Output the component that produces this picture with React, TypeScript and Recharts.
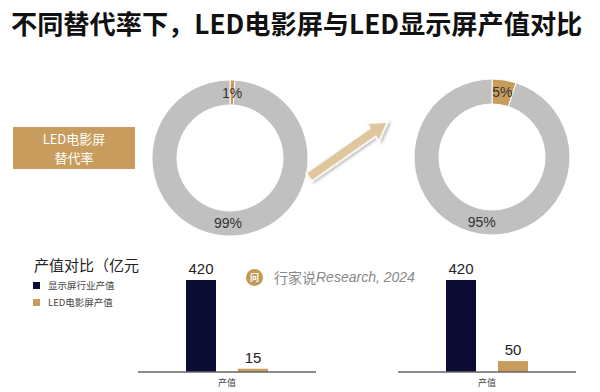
import React from 'react';
import { PieChart, Pie, Cell, BarChart, Bar, XAxis, YAxis, LabelList } from 'recharts';

const title = '不同替代率下，LED电影屏与LED显示屏产值对比';
const boxLines = ['LED电影屏', '替代率'];
const sliceNames = ['LED电影屏', '其他'];
const lowShares = [1, 99];
const highShares = [5, 95];
const barCategories = ['产值'];
const displayValues = [420, 420];
const ledValues = [15, 50];
const seriesNames = ['显示屏行业产值', 'LED电影屏产值'];
const barTitle = '产值对比（亿元';
const watermark = '行家说';
const watermarkEn = 'Research, 2024';

const GOLD = '#c89c5c';
const NAVY = '#0b0b33';
const GRAY = '#c0c0c0';
const FONT = '"Noto Sans CJK SC", "Noto Sans", Arial, sans-serif';
const RAD = Math.PI / 180;

const pieData = (shares: number[]) => shares.map((v, i) => ({ name: sliceNames[i], value: v }));

const renderLabel = (p: any) => {
  const r = (p.innerRadius + p.outerRadius) / 2;
  const x = p.cx + r * Math.cos(-p.midAngle * RAD);
  const y = p.cy + r * Math.sin(-p.midAngle * RAD);
  return (
    <text x={x} y={y} textAnchor="middle" dominantBaseline="central" fill="#333" fontSize={14} fontFamily="Arial, Liberation Sans, sans-serif">
      {`${p.value}%`}
    </text>
  );
};

function Donut({ shares, left, top }: { shares: number[]; left: number; top: number }) {
  return (
    <div style={{ position: 'absolute', left, top }}>
      <PieChart width={170} height={170}>
        <Pie
          data={pieData(shares)}
          dataKey="value"
          cx={85}
          cy={85}
          innerRadius={53}
          outerRadius={78}
          startAngle={90}
          endAngle={-270}
          stroke="#fff"
          strokeWidth={1}
          label={renderLabel}
          labelLine={false}
          isAnimationActive={false}
        >
          <Cell fill={GOLD} />
          <Cell fill={GRAY} />
        </Pie>
      </PieChart>
    </div>
  );
}

function Bars({ idx, left }: { idx: number; left: number }) {
  const data = barCategories.map((c) => ({ name: c, display: displayValues[idx], led: ledValues[idx] }));
  return (
    <div style={{ position: 'absolute', left, top: 255 }}>
      <BarChart width={178} height={137} data={data} margin={{ top: 25, right: 0, bottom: 0, left: 0 }} barSize={30} barGap={22}>
        <XAxis
          dataKey="name"
          axisLine={{ stroke: '#666', strokeWidth: 1.5 }}
          tickLine={false}
          tick={{ fontSize: 9, fill: '#444', fontFamily: FONT }}
          height={20}
        />
        <YAxis hide domain={[0, 420]} />
        <Bar dataKey="display" fill={NAVY} isAnimationActive={false}>
          <LabelList dataKey="display" position="top" offset={6} fill="#222" fontSize={15} fontFamily="Arial, Liberation Sans, sans-serif" />
        </Bar>
        <Bar dataKey="led" fill={GOLD} isAnimationActive={false}>
          <LabelList dataKey="led" position="top" offset={6} fill="#222" fontSize={15} fontFamily="Arial, Liberation Sans, sans-serif" />
        </Bar>
      </BarChart>
    </div>
  );
}

export default function App() {
  const L = 96;
  return (
    <div style={{ position: 'absolute', left: 0, top: 0, width: 600, height: 392, background: '#fff', overflow: 'hidden', fontFamily: FONT }}>
      <div style={{ position: 'absolute', left: 11, top: 4, fontSize: 26.2, fontWeight: 700, color: '#111', whiteSpace: 'nowrap', letterSpacing: 0 }}>
        {title}
      </div>
      <div
        style={{
          position: 'absolute', left: 13, top: 127, width: 122, height: 42, background: GOLD, color: '#fff',
          fontSize: 13, lineHeight: '19px', textAlign: 'center', display: 'flex', flexDirection: 'column', justifyContent: 'center',
        }}
      >
        {boxLines.map((l) => (
          <div key={l}>{l}</div>
        ))}
      </div>
      <Donut shares={lowShares} left={140} top={68} />
      <Donut shares={highShares} left={402} top={67} />
      <svg style={{ position: 'absolute', left: 0, top: 0 }} width={600} height={392}>
        <defs>
          <filter id="sh" x="-20%" y="-50%" width="140%" height="200%">
            <feDropShadow dx="1" dy="2" stdDeviation="1.5" floodColor="#000" floodOpacity="0.3" />
          </filter>
        </defs>
        <g transform="translate(309,177) rotate(-35)">
          <polygon
            points={`0,-5 ${L - 18},-5 ${L - 18},-11 ${L},0 ${L - 18},11 ${L - 18},5 0,5`}
            fill="#dfc69c"
            stroke="#fff"
            strokeWidth={1.5}
            filter="url(#sh)"
          />
        </g>
      </svg>
      <div style={{ position: 'absolute', left: 34, top: 254, fontSize: 15, color: '#222', whiteSpace: 'nowrap' }}>{barTitle}</div>
      {seriesNames.map((n, i) => (
        <div key={n} style={{ position: 'absolute', left: 33, top: 278 + i * 17, display: 'flex', alignItems: 'center', whiteSpace: 'nowrap' }}>
          <div style={{ width: 7, height: 7, background: i === 0 ? NAVY : GOLD, marginRight: 8 }} />
          <span style={{ fontSize: 9.5, color: '#444' }}>{n}</span>
        </div>
      ))}
      <div style={{ position: 'absolute', left: 246, top: 267, display: 'flex', alignItems: 'center', whiteSpace: 'nowrap' }}>
        <div style={{ width: 17, height: 17, borderRadius: '50%', background: '#c39a55', color: '#fff', fontSize: 9, fontWeight: 700, display: 'flex', alignItems: 'center', justifyContent: 'center', marginRight: 11 }}>
          问
        </div>
        <span style={{ fontSize: 14, color: '#888' }}>{watermark}</span>
        <span style={{ fontSize: 14, color: '#888', fontStyle: 'italic', fontFamily: 'Arial, Liberation Sans, sans-serif' }}>{watermarkEn}</span>
      </div>
      <Bars idx={0} left={138} />
      <Bars idx={1} left={398} />
    </div>
  );
}
